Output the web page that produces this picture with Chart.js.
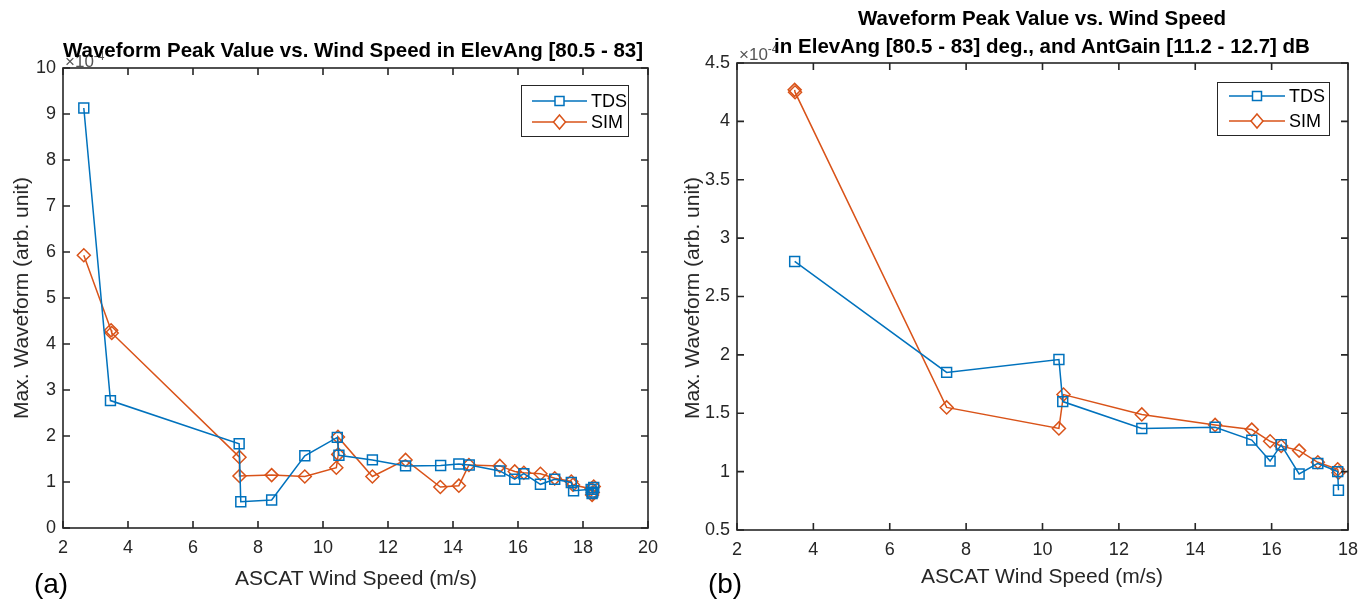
<!DOCTYPE html>
<html>
<head>
<meta charset="utf-8">
<script src="https://cdn.jsdelivr.net/npm/chart.js@4.4.1/dist/chart.umd.min.js"></script>
<style>
  body { margin: 0; background: #fff; font-family: "Liberation Sans", Arial, sans-serif; color: #262626; }
  #wrap { position: relative; width: 1369px; height: 604px; overflow: hidden; }
  canvas { position: absolute; top: 0; }
  .t { position: absolute; white-space: nowrap; transform: translate(-50%, -50%); }
  .title { font-weight: bold; font-size: 20.5px; color: #000; }
  .axt { font-size: 21px; }
  .rot { transform: translate(-50%, -50%) rotate(-90deg); }
  .pl { font-size: 28px; color: #000; }
  .exp { position: absolute; font-size: 17px; color: #555; }
</style>
</head>
<body>
<div id="wrap">
  <canvas id="chartA" width="684" height="604" style="left:0px"></canvas>
  <canvas id="chartB" width="685" height="604" style="left:684px"></canvas>

  <div class="exp" style="left:65px; top:49px;">&times;10<sup style="font-size:12px">-4</sup></div>
  <div class="exp" style="left:739px; top:42px;">&times;10<sup style="font-size:12px">-4</sup></div>

  <div class="t title" style="left:353px; top:50px;">Waveform Peak Value vs. Wind Speed in ElevAng [80.5 - 83]</div>
  <div class="t title" style="left:1042px; top:18px;">Waveform Peak Value vs. Wind Speed</div>
  <div class="t title" style="left:1042px; top:46px;">in ElevAng [80.5 - 83] deg., and AntGain [11.2 - 12.7] dB</div>

  <div class="t axt" style="left:356px; top:578px;">ASCAT Wind Speed (m/s)</div>
  <div class="t axt" style="left:1042px; top:576px;">ASCAT Wind Speed (m/s)</div>
  <div class="t axt rot" style="left:21px; top:298px;">Max. Waveform (arb. unit)</div>
  <div class="t axt rot" style="left:692px; top:298px;">Max. Waveform (arb. unit)</div>

  <div class="t pl" style="left:51px; top:584px;">(a)</div>
  <div class="t pl" style="left:725px; top:584px;">(b)</div>
</div>
<script>
// values in units of 1e-4
// (a) all elevation angles 80.5 - 83
var tdsWindA = [2.64, 3.46, 7.42, 7.47, 8.42, 9.44, 10.44, 10.49, 11.52, 12.54, 13.62, 14.18, 14.5, 15.44, 15.9, 16.18, 16.69, 17.13, 17.64, 17.71, 18.25, 18.3, 18.33, 18.28];
var tdsPeakA = [9.13, 2.77, 1.83, 0.57, 0.61, 1.57, 1.97, 1.58, 1.48, 1.35, 1.36, 1.39, 1.37, 1.24, 1.06, 1.18, 0.95, 1.06, 0.99, 0.81, 0.84, 0.78, 0.88, 0.75];
var simWindA = [2.64, 3.48, 3.5, 7.43, 7.43, 8.42, 9.44, 10.41, 10.47, 10.46, 11.52, 12.54, 13.61, 14.18, 14.49, 15.44, 15.9, 16.18, 16.69, 17.13, 17.64, 17.69, 18.26, 18.3, 18.33, 18.28];
var simPeakA = [5.93, 4.30, 4.24, 1.54, 1.13, 1.15, 1.12, 1.31, 1.60, 1.98, 1.12, 1.48, 0.89, 0.92, 1.37, 1.35, 1.23, 1.20, 1.18, 1.08, 1.01, 0.94, 0.85, 0.77, 0.90, 0.72];

// (b) elevation 80.5 - 83 and antenna gain 11.2 - 12.7 dB
var tdsWindB = [3.51, 7.49, 10.43, 10.53, 12.6, 14.52, 15.48, 15.96, 16.25, 16.72, 17.21, 17.73, 17.75];
var tdsPeakB = [2.80, 1.85, 1.96, 1.60, 1.37, 1.38, 1.27, 1.09, 1.23, 0.98, 1.07, 1.00, 0.84];
var simWindB = [3.51, 3.52, 7.49, 10.43, 10.55, 12.6, 14.52, 15.48, 15.96, 16.25, 16.72, 17.21, 17.73, 17.75];
var simPeakB = [4.27, 4.25, 1.55, 1.37, 1.66, 1.49, 1.40, 1.36, 1.26, 1.22, 1.18, 1.08, 1.02, 0.99];

var xTicksA = [2, 4, 6, 8, 10, 12, 14, 16, 18, 20];
var yTicksA = [0, 1, 2, 3, 4, 5, 6, 7, 8, 9, 10];
var xTicksB = [2, 4, 6, 8, 10, 12, 14, 16, 18];
var yTicksB = [0.5, 1, 1.5, 2, 2.5, 3, 3.5, 4, 4.5];

var seriesNames = ["TDS", "SIM"];
var blue = '#0072BD', orange = '#D95319', axisCol = '#262626';
var fontFam = '"Liberation Sans", Arial, sans-serif';

function pts(xs, ys) {
  return xs.map(function (x, i) { return { x: x, y: ys[i] }; });
}

// MATLAB style box with inward ticks + legend with line and marker
var boxPlugin = {
  id: 'matBox',
  afterDraw: function (chart, args, opts) {
    var c = chart.ctx, a = chart.chartArea;
    var xs = chart.scales.x, ys = chart.scales.y;
    c.save();
    c.strokeStyle = axisCol;
    c.lineWidth = 1.6;
    c.strokeRect(a.left, a.top, a.right - a.left, a.bottom - a.top);
    var tl = 7;
    c.beginPath();
    opts.xTicks.forEach(function (v) {
      var px = xs.getPixelForValue(v);
      c.moveTo(px, a.bottom); c.lineTo(px, a.bottom - tl);
      c.moveTo(px, a.top); c.lineTo(px, a.top + tl);
    });
    opts.yTicks.forEach(function (v) {
      var py = ys.getPixelForValue(v);
      c.moveTo(a.left, py); c.lineTo(a.left + tl, py);
      c.moveTo(a.right, py); c.lineTo(a.right - tl, py);
    });
    c.stroke();

    // legend
    var L = opts.legend;
    c.fillStyle = '#fff';
    c.fillRect(L.x, L.y, L.w, L.h);
    c.lineWidth = 1;
    c.strokeStyle = axisCol;
    c.strokeRect(L.x + 0.5, L.y + 0.5, L.w, L.h);
    chart.data.datasets.forEach(function (ds, i) {
      var yy = L.y + L.rows[i];
      c.strokeStyle = ds.borderColor;
      c.lineWidth = 1.5;
      c.beginPath();
      c.moveTo(L.x + L.l0, yy); c.lineTo(L.x + L.l1, yy);
      c.stroke();
      var mx = (L.x + L.l0 + L.x + L.l1) / 2;
      c.beginPath();
      if (ds.pointStyle === 'rect') {
        c.rect(mx - 4.5, yy - 4.5, 9, 9);
      } else {
        c.moveTo(mx, yy - 7); c.lineTo(mx + 6, yy); c.lineTo(mx, yy + 7); c.lineTo(mx - 6, yy); c.closePath();
      }
      c.fillStyle = '#fff';
      c.fill();
      c.stroke();
      c.fillStyle = '#000';
      c.font = '18px ' + fontFam;
      c.textBaseline = 'middle';
      c.fillText(ds.label, L.x + L.tx, yy + 1);
    });
    c.restore();
  }
};

function makeChart(id, tw, tp, sw, sp, xt, yt, xmin, xmax, ymin, ymax, pad, yw, xh, leg) {
  return new Chart(document.getElementById(id), {
    type: 'scatter',
    data: {
      datasets: [{
        label: seriesNames[0],
        data: pts(tw, tp),
        showLine: true,
        borderColor: blue,
        borderWidth: 1.5,
        pointStyle: 'rect',
        pointRadius: 7,
        pointBorderWidth: 1.5,
        pointBackgroundColor: 'rgba(0,0,0,0)',
        pointBorderColor: blue
      }, {
        label: seriesNames[1],
        data: pts(sw, sp),
        showLine: true,
        borderColor: orange,
        borderWidth: 1.5,
        pointStyle: 'rectRot',
        pointRadius: 6.5,
        pointBorderWidth: 1.5,
        pointBackgroundColor: 'rgba(0,0,0,0)',
        pointBorderColor: orange
      }]
    },
    options: {
      responsive: false,
      animation: false,
      layout: { padding: pad },
      plugins: {
        legend: { display: false },
        tooltip: { enabled: false },
        matBox: { xTicks: xt, yTicks: yt, legend: leg }
      },
      scales: {
        x: {
          type: 'linear', min: xmin, max: xmax,
          grid: { display: false, drawTicks: false },
          border: { display: false },
          afterFit: function (s) { s.height = xh; },
          afterBuildTicks: function (s) { s.ticks = xt.map(function (v) { return { value: v }; }); },
          ticks: { color: axisCol, padding: 9, maxRotation: 0, autoSkip: false,
                   callback: function (v) { return String(v); },
                   font: { family: fontFam, size: 18 } }
        },
        y: {
          type: 'linear', min: ymin, max: ymax,
          grid: { display: false, drawTicks: false },
          border: { display: false },
          afterFit: function (s) { s.width = yw; },
          afterBuildTicks: function (s) { s.ticks = yt.map(function (v) { return { value: v }; }); },
          ticks: { color: axisCol, padding: 7, autoSkip: false,
                   callback: function (v) { return String(v); },
                   font: { family: fontFam, size: 18 } }
        }
      }
    },
    plugins: [boxPlugin]
  });
}

makeChart('chartA', tdsWindA, tdsPeakA, simWindA, simPeakA, xTicksA, yTicksA, 2, 20, 0, 10,
  { top: 68, right: 36, left: 0, bottom: 0 }, 63, 76,
  { x: 521, y: 85, w: 107, h: 51, rows: [16, 37], l0: 11, l1: 66, tx: 70 });

makeChart('chartB', tdsWindB, tdsPeakB, simWindB, simPeakB, xTicksB, yTicksB, 2, 18, 0.5, 4.5,
  { top: 63, right: 21, left: 0, bottom: 0 }, 53, 74,
  { x: 533, y: 82, w: 112, h: 53, rows: [14, 39], l0: 12, l1: 68, tx: 72 });
</script>
</body>
</html>
